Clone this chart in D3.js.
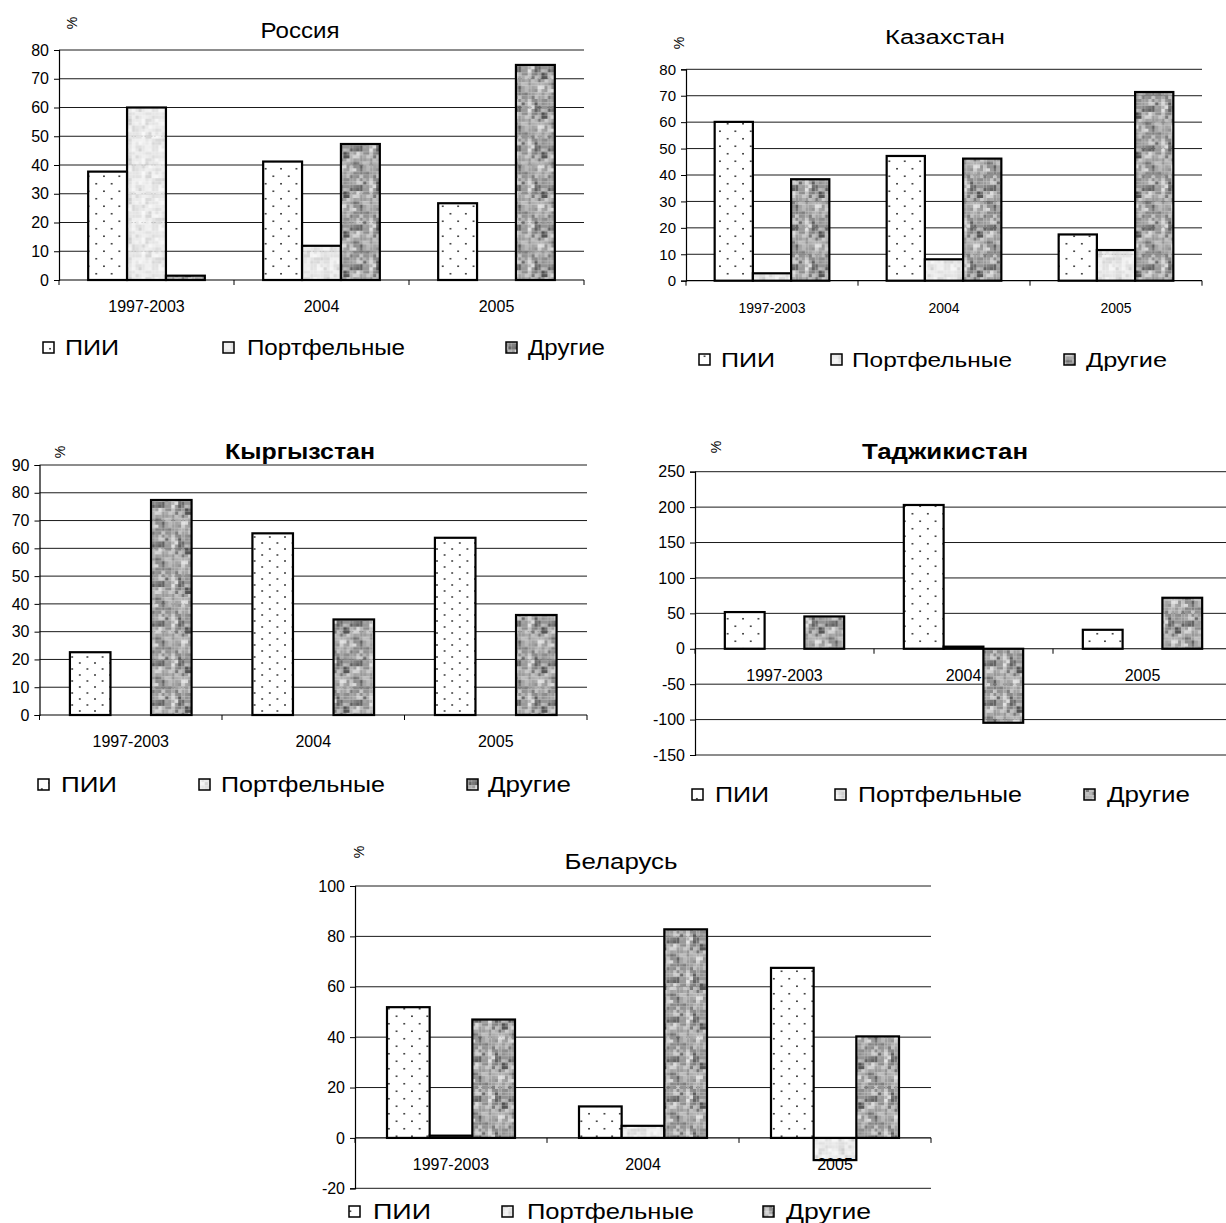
<!DOCTYPE html>
<html><head><meta charset="utf-8">
<script src="https://cdn.jsdelivr.net/npm/d3@7"></script>
<style>
body{margin:0;background:#fff}
svg{display:block}
text{font-family:"Liberation Sans",Arial,sans-serif;fill:#000}
</style>
</head><body>
<svg id="c" width="1226" height="1223"></svg>
<script>
// ---------- DATA ----------
const categories = ["1997-2003", "2004", "2005"];
const seriesNames = ["ПИИ", "Портфельные", "Другие"];

const russiaFDI = [37.7, 41.2, 26.7];
const russiaPortfolio = [60, 11.9, 0];
const russiaOther = [1.5, 47.3, 74.8];

const kazakhstanFDI = [60.1, 47.2, 17.5];
const kazakhstanPortfolio = [2.8, 8.1, 11.6];
const kazakhstanOther = [38.4, 46.2, 71.4];

const kyrgyzstanFDI = [22.6, 65.4, 63.8];
const kyrgyzstanPortfolio = [0, 0, 0];
const kyrgyzstanOther = [77.4, 34.4, 36];

const tajikistanFDI = [51.8, 203, 26.8];
const tajikistanPortfolio = [0, 3, 0];
const tajikistanOther = [45.6, -104.5, 72];

const belarusFDI = [51.9, 12.5, 67.5];
const belarusPortfolio = [0.9, 4.8, -8.8];
const belarusOther = [47, 82.8, 40.3];

const ticksRussia = [0, 10, 20, 30, 40, 50, 60, 70, 80];
const ticksKazakhstan = [0, 10, 20, 30, 40, 50, 60, 70, 80];
const ticksKyrgyzstan = [0, 10, 20, 30, 40, 50, 60, 70, 80, 90];
const ticksTajikistan = [-150, -100, -50, 0, 50, 100, 150, 200, 250];
const ticksBelarus = [-20, 0, 20, 40, 60, 80, 100];

// ---------- PATTERNS ----------
const svg = d3.select("#c");
const defs = svg.append("defs");

function hash(i) { const s = Math.sin(i * 12.9898 + 78.233) * 43758.5453; return s - Math.floor(s); }
function mottle(id, lo, hi, cell, n, seed) {
  const p = defs.append("pattern").attr("id", id).attr("patternUnits", "userSpaceOnUse")
    .attr("width", cell * n).attr("height", cell * n);
  for (let r = 0; r < n; r++) for (let c = 0; c < n; c++) {
    const h = (hash(r * n + c + seed) + hash((r >> 1) * 97 + (c >> 1) + seed * 3)) / 2;
    const v = Math.round(lo + (hi - lo) * h);
    p.append("rect").attr("x", c * cell).attr("y", r * cell).attr("width", cell).attr("height", cell)
      .attr("fill", `rgb(${v},${v},${v})`);
  }
}
function dots(id, w, h, r) {
  const p = defs.append("pattern").attr("id", id).attr("patternUnits", "userSpaceOnUse")
    .attr("width", w).attr("height", h);
  p.append("rect").attr("width", w).attr("height", h).attr("fill", "#fff");
  [[w * 0.25, h * 0.25], [w * 0.75, h * 0.75]].forEach(([x, y]) =>
    p.append("rect").attr("x", x - r / 2).attr("y", y - r / 2).attr("width", r).attr("height", r).attr("fill", "#222"));
}
dots("dotsWide", 15.4, 15, 1.6);
dots("dotsDense", 15.2, 12, 1.6);
mottle("portPat", 205, 252, 3.3, 12, 7);
mottle("otherPat", 70, 235, 3.3, 12, 31);

// ---------- PANELS (layout) ----------
const panels = [
  { title: "Россия", bold: false, data: [russiaFDI, russiaPortfolio, russiaOther], ticks: ticksRussia, domain: [0, 80],
    x0: 59, x1: 584, yTop: 50, yBot: 280, titleX: 300, titleY: 38, titleSize: 22, titleLen: 79,
    pctX: 72, pctY: 23, tickFs: 16, catFs: 16, legY: 355, legFs: 22,
    boxX: [43, 223, 506], txtX: [65, 247, 528], txtLen: [54, 158, 77], dots: "dotsWide" },
  { title: "Казахстан", bold: false, data: [kazakhstanFDI, kazakhstanPortfolio, kazakhstanOther], ticks: ticksKazakhstan, domain: [0, 80],
    x0: 686, x1: 1202, yTop: 69.3, yBot: 280.7, titleX: 945, titleY: 44, titleSize: 20, titleLen: 120,
    pctX: 679, pctY: 43, tickFs: 15, catFs: 14, legY: 367, legFs: 21,
    boxX: [699, 831, 1064], txtX: [721, 852, 1086], txtLen: [54, 160, 81], dots: "dotsWide" },
  { title: "Кыргызстан", bold: true, data: [kyrgyzstanFDI, kyrgyzstanPortfolio, kyrgyzstanOther], ticks: ticksKyrgyzstan, domain: [0, 90],
    x0: 39.5, x1: 587, yTop: 465, yBot: 715, titleX: 300, titleY: 459, titleSize: 22, titleLen: 150,
    pctX: 60, pctY: 452, tickFs: 16, catFs: 16, legY: 792, legFs: 22,
    boxX: [38, 199, 467], txtX: [61, 221, 488], txtLen: [56, 164, 83], dots: "dotsDense" },
  { title: "Таджикистан", bold: true, data: [tajikistanFDI, tajikistanPortfolio, tajikistanOther], ticks: ticksTajikistan, domain: [-150, 250],
    x0: 695, x1: 1232, yTop: 471.7, yBot: 755, titleX: 945, titleY: 459, titleSize: 22, titleLen: 166,
    pctX: 716, pctY: 447, tickFs: 16, catFs: 16, legY: 802, legFs: 22,
    boxX: [692, 835, 1084], txtX: [715, 858, 1107], txtLen: [54, 164, 83], dots: "dotsWide" },
  { title: "Беларусь", bold: false, data: [belarusFDI, belarusPortfolio, belarusOther], ticks: ticksBelarus, domain: [-20, 100],
    x0: 355, x1: 931, yTop: 886, yBot: 1188.3, titleX: 621, titleY: 869, titleSize: 22, titleLen: 113,
    pctX: 359, pctY: 852, tickFs: 16, catFs: 16, legY: 1219, legFs: 22,
    boxX: [349, 502, 763], txtX: [373, 527, 786], txtLen: [58, 167, 85], dots: "dotsWide" }
];

const fills = p => [`url(#${p.dots})`, "url(#portPat)", "url(#otherPat)"];

panels.forEach(p => {
  const g = svg.append("g");
  const x = d3.scaleBand().domain(categories).range([p.x0, p.x1]).paddingInner(1 / 3).paddingOuter(1 / 6);
  const xs = d3.scaleBand().domain(seriesNames).range([0, x.bandwidth()]).padding(0);
  const y = d3.scaleLinear().domain(p.domain).range([p.yBot, p.yTop]);
  const f = fills(p);

  // gridlines
  g.append("g").selectAll("line").data(p.ticks.filter(t => t !== 0)).join("line")
    .attr("x1", p.x0).attr("x2", p.x1).attr("y1", d => y(d)).attr("y2", d => y(d))
    .attr("stroke", "#1a1a1a").attr("stroke-width", 1);

  // y axis
  const ya = g.append("g").attr("transform", `translate(${p.x0},0)`)
    .call(d3.axisLeft(y).tickValues(p.ticks).tickSize(5).tickPadding(5).tickFormat(d => String(d)));
  ya.select(".domain").attr("stroke", "#000").attr("stroke-width", 1.2);
  ya.selectAll(".tick line").attr("stroke", "#000");
  ya.selectAll(".tick text").attr("font-size", p.tickFs).attr("font-family", '"Liberation Sans",Arial,sans-serif').attr("fill", "#000");

  // bars
  const bars = [];
  categories.forEach((c, ci) => seriesNames.forEach((s, si) => {
    const v = p.data[si][ci];
    if (v !== 0) bars.push({ c, s, si, v });
  }));
  g.append("g").selectAll("rect").data(bars).join("rect")
    .attr("x", d => x(d.c) + xs(d.s))
    .attr("width", xs.bandwidth())
    .attr("y", d => y(Math.max(0, d.v)))
    .attr("height", d => Math.abs(y(d.v) - y(0)))
    .attr("fill", d => f[d.si])
    .attr("stroke", "#000").attr("stroke-width", 2.2);

  // x axis at zero
  const y0 = y(0);
  g.append("line").attr("x1", p.x0).attr("x2", p.x1).attr("y1", y0).attr("y2", y0)
    .attr("stroke", "#000").attr("stroke-width", 1.2);
  const bounds = categories.map(c => x(c) - x.step() * x.paddingInner() / 2).concat([p.x1]);
  g.append("g").selectAll("line").data(bounds).join("line")
    .attr("x1", d => d).attr("x2", d => d).attr("y1", y0).attr("y2", y0 + 5)
    .attr("stroke", "#000").attr("stroke-width", 1);
  g.append("g").selectAll("text").data(categories).join("text")
    .attr("x", d => x(d) + x.bandwidth() / 2).attr("y", y0 + 32)
    .attr("text-anchor", "middle").attr("font-size", p.catFs).text(d => d);

  // title
  g.append("text").attr("x", p.titleX).attr("y", p.titleY).attr("text-anchor", "middle")
    .attr("font-size", p.titleSize).attr("font-weight", p.bold ? "bold" : "normal")
    .attr("textLength", p.titleLen).attr("lengthAdjust", "spacingAndGlyphs").text(p.title);

  // percent sign
  g.append("text").attr("transform", `translate(${p.pctX},${p.pctY}) rotate(-90)`)
    .attr("text-anchor", "middle").attr("dy", "0.35em").attr("font-size", 14).text("%");

  // legend
  seriesNames.forEach((s, i) => {
    g.append("rect").attr("x", p.boxX[i]).attr("y", p.legY - 13).attr("width", 11).attr("height", 11)
      .attr("fill", f[i]).attr("stroke", "#000").attr("stroke-width", 1.5);
    g.append("text").attr("x", p.txtX[i]).attr("y", p.legY).attr("font-size", p.legFs)
      .attr("textLength", p.txtLen[i]).attr("lengthAdjust", "spacingAndGlyphs").text(s);
  });
});
</script>
</body></html>
